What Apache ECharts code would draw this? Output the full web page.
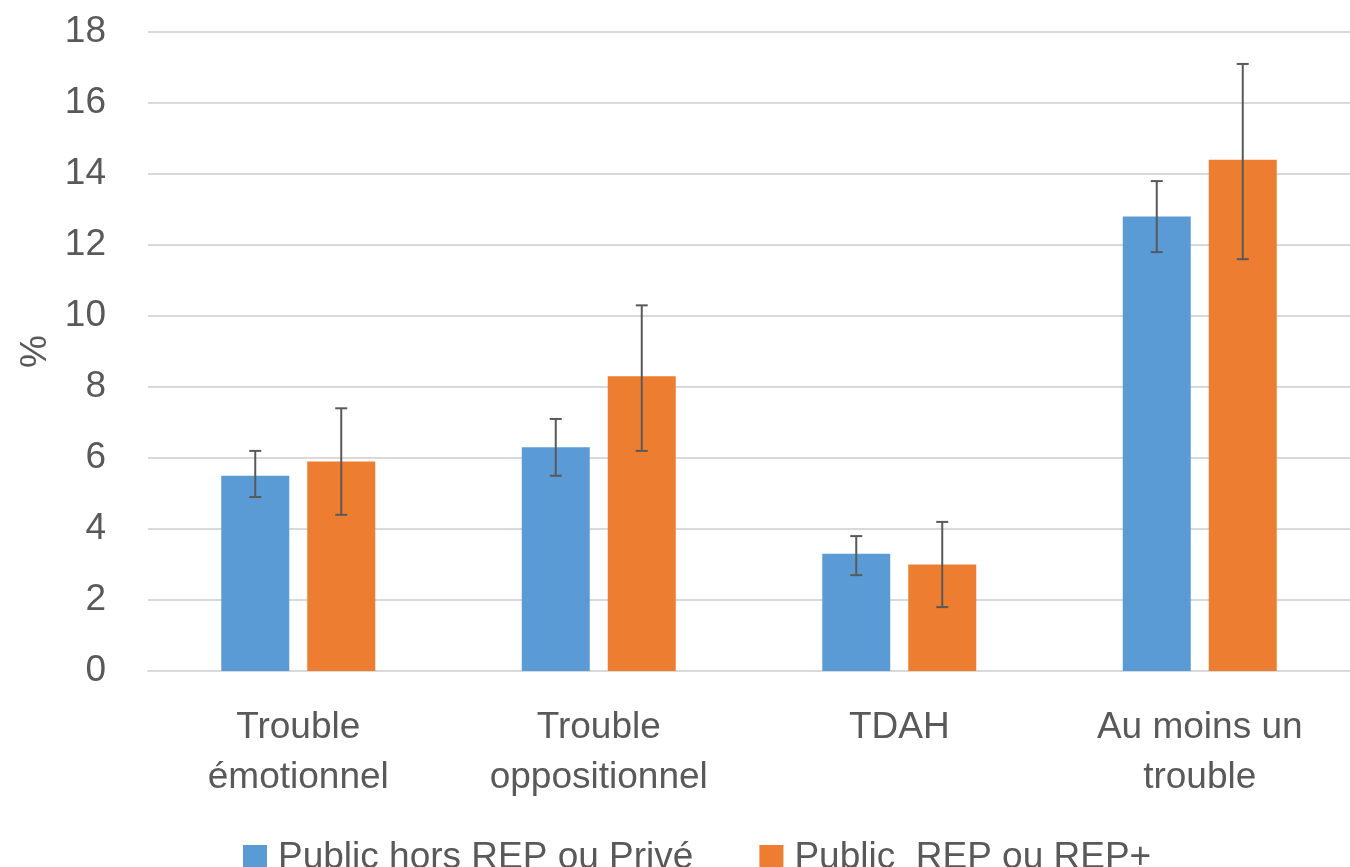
<!DOCTYPE html>
<html>
<head>
<meta charset="utf-8">
<script src="https://cdn.jsdelivr.net/npm/echarts@6/dist/echarts.min.js"></script>
<style>
  html, body { margin: 0; padding: 0; background: #fff; }
  #chart { width: 1350px; height: 867px; }
</style>
</head>
<body>
<div id="chart"></div>
<script>
// categories and values
var categories = ['Trouble\némotionnel', 'Trouble\noppositionnel', 'TDAH', 'Au moins un\ntrouble'];
var seriesNames = ['Public hors REP ou Privé', 'Public  REP ou REP+'];

var horsRep = [5.5, 6.3, 3.3, 12.8];
var horsRepLow = [4.9, 5.5, 2.7, 11.8];
var horsRepHigh = [6.2, 7.1, 3.8, 13.8];

var rep = [5.9, 8.3, 3.0, 14.4];
var repLow = [4.4, 6.2, 1.8, 11.6];
var repHigh = [7.4, 10.3, 4.2, 17.1];

var font = '"Liberation Sans", Arial, sans-serif';
var txt = '#595959';
var barW = 68;
var gap = 18;

function errData(low, high) {
    return low.map(function (l, i) { return [i, l, high[i]]; });
}

// error bar drawn next to its bar, shift = pixel offset from category centre
function errorBar(shift) {
    return function (params, api) {
        var lo = api.coord([api.value(0), api.value(1)]);
        var hi = api.coord([api.value(0), api.value(2)]);
        var x = lo[0] + shift;
        var cap = 6;
        var st = { stroke: '#595959', lineWidth: 2 };
        return {
            type: 'group',
            children: [
                { type: 'line', shape: { x1: x, y1: hi[1], x2: x, y2: lo[1] }, style: st },
                { type: 'line', shape: { x1: x - cap, y1: hi[1], x2: x + cap, y2: hi[1] }, style: st },
                { type: 'line', shape: { x1: x - cap, y1: lo[1], x2: x + cap, y2: lo[1] }, style: st }
            ]
        };
    };
}

var chart = echarts.init(document.getElementById('chart'));

var option = {
    animation: false,
    textStyle: { fontFamily: font },
    grid: {
        left: 148,
        right: 0,
        top: 32,
        bottom: 196,
        containLabel: false,
        outerBoundsMode: 'none'
    },
    legend: {
        data: seriesNames,
        left: 238,
        top: 834,
        itemWidth: 24,
        itemHeight: 25,
        itemGap: 66,
        icon: 'rect',
        textStyle: { fontSize: 37, color: txt, fontFamily: font, padding: [0, 0, 0, 6] }
    },
    xAxis: {
        type: 'category',
        data: categories,
        axisLine: { lineStyle: { color: '#d9d9d9', width: 2 } },
        axisTick: { show: false },
        axisLabel: {
            color: txt,
            fontSize: 37,
            lineHeight: 50,
            margin: 32,
            interval: 0,
            fontFamily: font
        }
    },
    yAxis: {
        type: 'value',
        min: 0,
        max: 18,
        interval: 2,
        name: '%',
        nameLocation: 'middle',
        nameGap: 94,
        nameRotate: 90,
        nameTextStyle: { color: txt, fontSize: 37, fontFamily: font },
        axisLine: { show: false },
        axisTick: { show: false },
        splitLine: { lineStyle: { color: '#d9d9d9', width: 2 } },
        axisLabel: { color: txt, fontSize: 37, margin: 42, fontFamily: font }
    },
    series: [
        {
            name: seriesNames[0],
            type: 'bar',
            data: horsRep,
            barWidth: barW,
            barGap: (gap / barW * 100) + '%',
            itemStyle: { color: '#5b9bd5' }
        },
        {
            name: seriesNames[1],
            type: 'bar',
            data: rep,
            barWidth: barW,
            itemStyle: { color: '#ed7d31' }
        },
        {
            type: 'custom',
            renderItem: errorBar(-(barW + gap) / 2),
            data: errData(horsRepLow, horsRepHigh),
            encode: { x: 0, y: [1, 2] },
            z: 10
        },
        {
            type: 'custom',
            renderItem: errorBar((barW + gap) / 2),
            data: errData(repLow, repHigh),
            encode: { x: 0, y: [1, 2] },
            z: 10
        }
    ]
};

chart.setOption(option);
</script>
</body>
</html>
